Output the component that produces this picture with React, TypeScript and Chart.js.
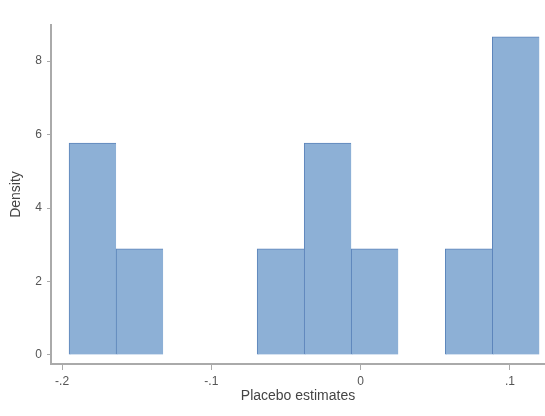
import React, { useEffect, useRef } from "react";
import { Chart, registerables } from "chart.js";

Chart.register(...registerables);

// Histogram bins (centers), bin width and density values
const binCenters = [-0.17955, -0.14805, -0.11655, -0.08505, -0.05355, -0.02205, 0.00945, 0.04095, 0.07245, 0.10395];
const densities = [5.77, 2.89, 0, 0, 2.89, 5.77, 2.89, 0, 2.89, 8.66];

const xTickValues = [-0.2, -0.1, 0, 0.1];
const xTickLabels = ["-.2", "-.1", "0", ".1"];
const yTickValues = [0, 2, 4, 6, 8];
const yTickLabels = ["0", "2", "4", "6", "8"];

const xTitle = "Placebo estimates";
const yTitle = "Density";

export default function App() {
  const ref = useRef<HTMLCanvasElement | null>(null);

  useEffect(() => {
    document.body.style.margin = "0";
    const canvas = ref.current;
    if (!canvas) return;
    const font = "'Liberation Sans', Arial, sans-serif";
    const isZero = (ctx: any) => !ctx.raw || ctx.raw.y === 0;
    const chart = new Chart(canvas, {
      type: "bar",
      data: {
        datasets: [
          {
            data: binCenters.map((x, i) => ({ x, y: densities[i] })),
            backgroundColor: (ctx: any) => (isZero(ctx) ? "rgba(0,0,0,0)" : "rgb(141,176,214)"),
            borderColor: (ctx: any) => (isZero(ctx) ? "rgba(0,0,0,0)" : "rgb(92,132,186)"),
            borderWidth: (ctx: any) =>
              isZero(ctx) ? 0 : { left: 1, right: 0, top: 1, bottom: 0 },
            borderSkipped: false,
            barPercentage: 1,
            categoryPercentage: 1,
          } as any,
        ],
      },
      options: {
        responsive: false,
        animation: false,
        events: [],
        layout: { padding: { top: 25, right: 0, left: 0, bottom: 0 } },
        plugins: { legend: { display: false }, tooltip: { enabled: false } },
        scales: {
          x: {
            type: "linear",
            min: -0.2074,
            max: 0.1235,
            offset: false,
            grid: {
              display: true,
              drawOnChartArea: false,
              offset: false,
              tickLength: 6,
              color: "#aaa",
            },
            border: { display: true, color: "#aaa", width: 2 },
            afterBuildTicks: (scale: any) => {
              scale.ticks = xTickValues.map((v) => ({ value: v }));
            },
            afterFit: (scale: any) => {
              scale.height = 52;
            },
            ticks: {
              autoSkip: false,
              maxRotation: 0,
              padding: 4,
              color: "#555",
              font: { family: font, size: 12 },
              callback: (v: any) => {
                const i = xTickValues.findIndex((t) => Math.abs(t - Number(v)) < 1e-9);
                return i >= 0 ? xTickLabels[i] : "";
              },
            },
            title: {
              display: true,
              text: xTitle,
              color: "#444",
              font: { family: font, size: 14 },
              padding: { top: 0, bottom: 11 },
            },
          },
          y: {
            type: "linear",
            min: -0.245,
            max: 8.98,
            grid: {
              display: true,
              drawOnChartArea: false,
              tickLength: 4,
              color: "#aaa",
            },
            border: { display: true, color: "#aaa", width: 2 },
            afterBuildTicks: (scale: any) => {
              scale.ticks = yTickValues.map((v) => ({ value: v }));
            },
            afterFit: (scale: any) => {
              scale.width = 51;
            },
            ticks: {
              autoSkip: false,
              padding: 5,
              color: "#555",
              font: { family: font, size: 12 },
              callback: (v: any) => {
                const i = yTickValues.findIndex((t) => Math.abs(t - Number(v)) < 1e-9);
                return i >= 0 ? yTickLabels[i] : "";
              },
            },
            title: {
              display: true,
              text: yTitle,
              color: "#444",
              font: { family: font, size: 14 },
              padding: { top: 8, bottom: 0 },
            },
          },
        },
      },
    });
    return () => chart.destroy();
  }, []);

  return (
    <div style={{ position: "absolute", left: 0, top: 0, width: 545, height: 416, background: "#fff" }}>
      <canvas ref={ref} width={545} height={416} />
    </div>
  );
}
